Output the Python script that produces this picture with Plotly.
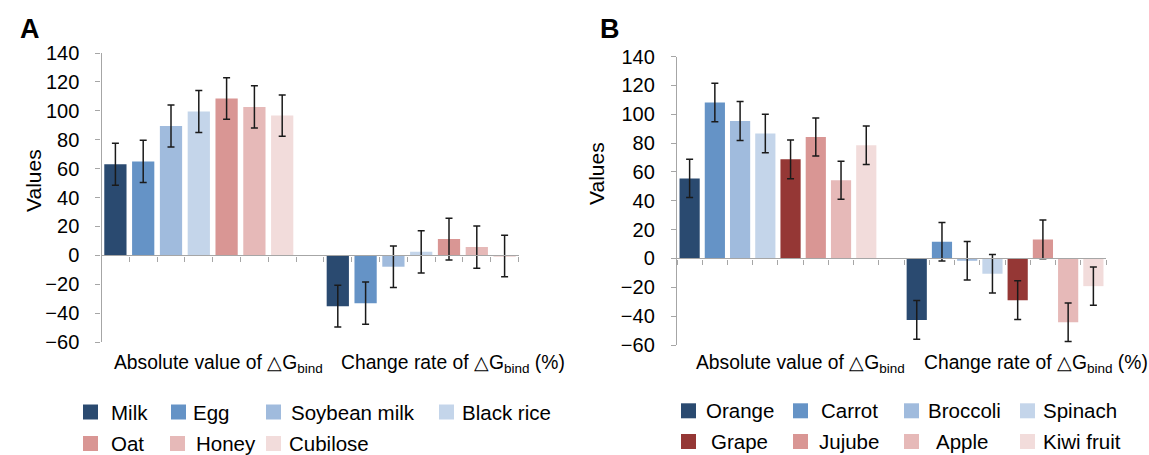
import plotly.graph_objects as go

W, H = 1149, 455

# ---------------- data ----------------
groups = ["Absolute value of △G<sub>bind</sub>", "Change rate of △G<sub>bind</sub> (%)"]

A_series = ["Milk", "Egg", "Soybean milk", "Black rice", "Oat", "Honey", "Cubilose"]
A_abs = [63, 65, 89.5, 99.5, 108.5, 102.7, 96.7]
A_abs_err = [14.5, 14.6, 14.6, 14.6, 14.4, 14.6, 14.3]
A_rate = [-35.2, -33.1, -7.9, 2.4, 11.2, 5.7, -0.5]
A_rate_err = [14.5, 14.7, 14.4, 14.6, 14.4, 14.6, 14.4]
A_colors = ["#2A4A70", "#6593C6", "#A0BBDD", "#C4D5EA", "#D99694", "#E6B9B8", "#F2DCDB"]

B_series = ["Orange", "Carrot", "Broccoli", "Spinach", "Grape", "Jujube", "Apple", "Kiwi fruit"]
B_abs = [55.5, 108.1, 95.3, 86.6, 68.7, 84.2, 54.2, 78.5]
B_abs_err = [13.2, 13.4, 13.5, 13.4, 13.5, 13.2, 13.1, 13.4]
B_rate = [-42.6, 11.6, -1.6, -10.6, -28.9, 13.2, -44.2, -19.2]
B_rate_err = [13.4, 13.4, 13.3, 13.4, 13.5, 13.4, 13.4, 13.2]
B_colors = ["#2A4A70", "#6593C6", "#A0BBDD", "#C4D5EA", "#953735", "#D99694", "#E6B9B8", "#F2DCDB"]

y_ticks = [-60, -40, -20, 0, 20, 40, 60, 80, 100, 120, 140]

FONT = "Liberation Sans, Arial, sans-serif"


def px(x):
    return x / W


def py(y):
    return 1 - y / H


fig = go.Figure()


def add_panel(series, vabs, eabs, vrate, erate, colors, xa, ya):
    n = len(series)
    for i, name in enumerate(series):
        fig.add_trace(go.Bar(
            x=[i + 0.5, n + 1 + i + 0.5],
            y=[vabs[i], vrate[i]],
            width=0.8,
            name=name,
            marker=dict(color=colors[i], line=dict(width=0)),
            error_y=dict(type="data", array=[eabs[i], erate[i]], visible=True,
                         color="#1A1A1A", thickness=1.5, width=3.5),
            xaxis=xa, yaxis=ya, showlegend=False,
        ))


add_panel(A_series, A_abs, A_abs_err, A_rate, A_rate_err, A_colors, "x", "y")
add_panel(B_series, B_abs, B_abs_err, B_rate, B_rate_err, B_colors, "x2", "y2")

axis_gray = "#A6A6A6"
nA = len(A_series)
nB = len(B_series)

# plot-area pixel boxes
A_box = dict(l=101.5, r=518.5, t=53, b=342)
B_box = dict(l=677, r=1106, t=56.5, b=345)


def zero_pos(box):
    frac = (0 - y_ticks[0]) / (y_ticks[-1] - y_ticks[0])
    ypix = box["b"] - frac * (box["b"] - box["t"])
    return py(ypix)


common_x = dict(showgrid=False, zeroline=False, showline=True, linecolor=axis_gray,
                linewidth=1.4, ticks="outside", ticklen=5, tickcolor=axis_gray,
                tickwidth=1.4, showticklabels=False, anchor="free", fixedrange=True,
                automargin=False)
common_y = dict(range=[y_ticks[0], y_ticks[-1]], tickvals=y_ticks, showgrid=False,
                zeroline=False, showline=True, linecolor=axis_gray, linewidth=1.4,
                ticks="outside", ticklen=5, tickcolor=axis_gray, tickwidth=1.4,
                tickfont=dict(family=FONT, size=20, color="#000"),
                ticklabelstandoff=12, fixedrange=True, automargin=False)

fig.update_layout(
    template="none",
    width=W, height=H, autosize=False,
    margin=dict(l=0, r=0, t=0, b=0, pad=0),
    paper_bgcolor="white", plot_bgcolor="white",
    barmode="overlay", showlegend=False,
    font=dict(family=FONT, color="#000"),
    xaxis=dict(domain=[px(A_box["l"]), px(A_box["r"])], range=[0, 2 * nA + 1],
               tickvals=list(range(2 * nA + 2)), position=zero_pos(A_box), **common_x),
    yaxis=dict(domain=[py(A_box["b"]), py(A_box["t"])], anchor="x", **common_y),
    xaxis2=dict(domain=[px(B_box["l"]), px(B_box["r"])], range=[0, 2 * nB + 1],
                tickvals=list(range(2 * nB + 2)), position=zero_pos(B_box), **common_x),
    yaxis2=dict(domain=[py(B_box["b"]), py(B_box["t"])], anchor="x2", **common_y),
)

ann = []
shapes = []

# panel letters
for letter, lx in [("A", 18), ("B", 598)]:
    ann.append(dict(text="<b>%s</b>" % letter, x=px(lx), y=py(12), xref="paper", yref="paper",
                    xanchor="left", yanchor="top", showarrow=False,
                    font=dict(family=FONT, size=27, color="#000")))

# y titles
for vx, vy in [(20.5, 181), (596, 174)]:
    ann.append(dict(text="Values", x=px(vx), y=py(vy), xref="paper", yref="paper",
                    textangle=-90, showarrow=False,
                    font=dict(family=FONT, size=21, color="#000")))

# category labels
for centers in ([218.5, 452.7], [800, 1036]):
    for xc, label in zip(centers, groups):
        ann.append(dict(text=label, x=px(xc), y=py(350), xref="paper", yref="paper",
                        xanchor="center", yanchor="top", showarrow=False,
                        font=dict(family=FONT, size=19.3, color="#000")))

# legends (square left x, text left x, row center y)
A_leg = [(83, 109, 412), (171, 191, 412), (266, 289, 412), (439, 460, 412),
         (83, 109, 443.5), (170, 194, 443.5), (266, 287, 443.5)]
B_leg = [(681, 704, 410.8), (793, 819, 410.8), (904, 926, 410.8), (1020, 1041, 410.8),
         (681, 709, 441.5), (793, 817, 441.5), (904, 934, 441.5), (1020, 1041, 441.5)]
SQ = 15

for names, cols, pos in [(A_series, A_colors, A_leg), (B_series, B_colors, B_leg)]:
    for name, col, (sx, tx, cy) in zip(names, cols, pos):
        shapes.append(dict(type="rect", xref="paper", yref="paper",
                           x0=px(sx), x1=px(sx + SQ), y0=py(cy + SQ / 2), y1=py(cy - SQ / 2),
                           fillcolor=col, line=dict(width=0)))
        ann.append(dict(text=name, x=px(tx), y=py(cy), xref="paper", yref="paper",
                        xanchor="left", yanchor="middle", showarrow=False,
                        font=dict(family=FONT, size=20.5, color="#000")))

fig.update_layout(annotations=ann, shapes=shapes)

fig.write_html("out.html", config={"displayModeBar": False},
               post_script="document.body.style.margin='0';document.body.style.overflow='hidden';")
